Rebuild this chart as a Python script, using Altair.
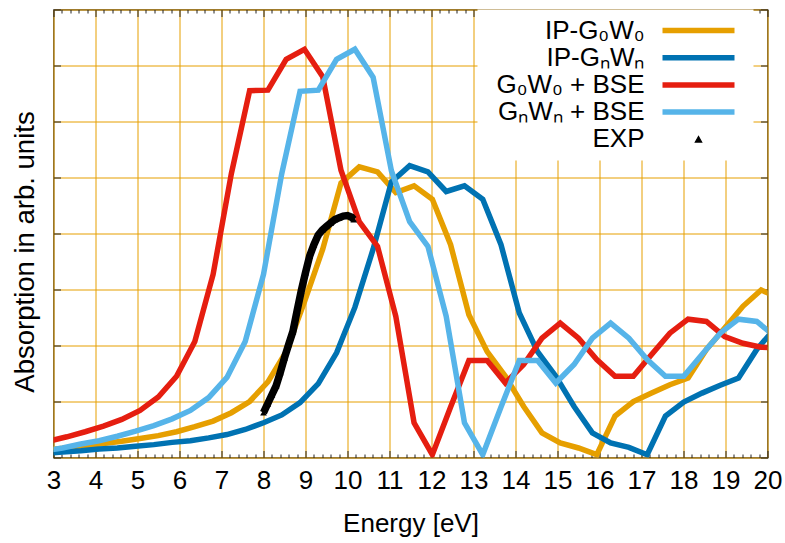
import altair as alt
import pandas as pd

FONT = "Liberation Sans"

# ---- data ----
energy_g0w0 = [2.885, 3.32, 3.755, 4.19, 4.625, 5.06, 5.495, 5.93, 6.365, 6.80,
               7.235, 7.67, 8.105, 8.54, 8.975, 9.41, 9.845, 10.28, 10.715, 11.15,
               11.585, 12.02, 12.455, 12.89, 13.325, 13.76, 14.195, 14.63, 15.065, 15.5,
               15.935, 16.37, 16.805, 17.24, 17.675, 18.11, 18.545, 18.98, 19.415, 19.85,
               20.285]
energy_gnwn = [2.78, 3.215, 3.65, 4.085, 4.52, 4.955, 5.39, 5.825, 6.26, 6.695,
               7.13, 7.565, 8.0, 8.435, 8.87, 9.305, 9.74, 10.175, 10.61, 11.045,
               11.48, 11.915, 12.35, 12.785, 13.22, 13.655, 14.09, 14.525, 14.96, 15.395,
               15.83, 16.265, 16.70, 17.135, 17.57, 18.005, 18.44, 18.875, 19.31, 19.745,
               20.18]
ip_g0w0 = [0.14, 0.17, 0.21, 0.25, 0.29, 0.34, 0.39, 0.46, 0.55, 0.65,
           0.80, 1.00, 1.35, 1.89, 2.78, 3.72, 4.90, 5.19, 5.10, 4.73,
           4.85, 4.61, 3.80, 2.55, 1.89, 1.45, 0.91, 0.44, 0.26, 0.17,
           0.05, 0.74, 1.00, 1.15, 1.30, 1.42, 1.93, 2.31, 2.70, 2.99,
           2.85]
ip_gnwn = [0.07, 0.10, 0.12, 0.15, 0.17, 0.20, 0.23, 0.27, 0.30, 0.35,
           0.41, 0.50, 0.62, 0.76, 0.98, 1.32, 1.87, 2.68, 3.72, 4.92,
           5.21, 5.10, 4.75, 4.85, 4.61, 3.80, 2.58, 1.89, 1.45, 0.91,
           0.44, 0.26, 0.18, 0.05, 0.74, 0.99, 1.15, 1.29, 1.42, 1.93,
           2.31]
bse_g0w0 = [0.29, 0.37, 0.46, 0.56, 0.68, 0.84, 1.08, 1.45, 2.07, 3.27,
            5.07, 6.55, 6.56, 7.11, 7.29, 6.80, 5.13, 4.21, 3.77, 2.52,
            0.62, 0.05, 0.90, 1.73, 1.73, 1.33, 1.66, 2.13, 2.40, 2.13,
            1.75, 1.45, 1.45, 1.84, 2.22, 2.47, 2.43, 2.16, 2.04, 1.97,
            1.95]
bse_gnwn = [0.12, 0.17, 0.24, 0.30, 0.38, 0.47, 0.57, 0.69, 0.84, 1.07,
            1.43, 2.07, 3.27, 5.07, 6.54, 6.56, 7.11, 7.29, 6.79, 5.12,
            4.21, 3.77, 2.52, 0.62, 0.05, 0.90, 1.73, 1.73, 1.33, 1.66,
            2.13, 2.40, 2.13, 1.75, 1.45, 1.45, 1.84, 2.22, 2.47, 2.43,
            2.16]
exp_energy = [8.00, 8.10, 8.20, 8.30, 8.40, 8.50, 8.60, 8.70, 8.80, 8.90,
              9.00, 9.10, 9.20, 9.30, 9.40, 9.50, 9.60, 9.70, 9.80, 9.90,
              10.00, 10.10, 10.15]
exp_abs = [0.80, 0.96, 1.12, 1.28, 1.52, 1.78, 2.02, 2.25, 2.62, 2.98,
           3.30, 3.60, 3.80, 3.97, 4.06, 4.13, 4.19, 4.25, 4.28, 4.31,
           4.32, 4.29, 4.25]

series_labels = ["IP-G\u2080W\u2080", "IP-G\u2099W\u2099", "G\u2080W\u2080 + BSE",
                 "G\u2099W\u2099 + BSE", "EXP"]
series_colors = ["#E69F00", "#0072B2", "#E51E10", "#56B4E9", "#000000"]

x_major = list(range(3, 21))
x_minor = [round(3 + 0.2 * i, 1) for i in range(0, 86) if i % 5 != 0]
y_major = list(range(0, 9))

GRID = "#E69F00"
TICK = "#222222"

x_scale = alt.Scale(domain=[3, 20], nice=False, zero=False)
y_scale = alt.Scale(domain=[0, 8], nice=False, zero=False)
color_scale = alt.Scale(domain=series_labels, range=series_colors)

is_exp = "datum.value === 'EXP'"
legend = alt.Legend(
    title=None, orient="none", legendX=424, legendY=0,
    direction="vertical", columns=1,
    fillColor="white", padding=8,
    labelFont=FONT, labelFontSize=26, labelColor="black",
    labelAlign="right", labelOffset={"expr": "-67"}, labelLimit=0,
    symbolOffset=200,
    symbolType={"expr": f"{is_exp} ? 'triangle-up' : 'stroke'"},
    symbolSize={"expr": f"{is_exp} ? 40 : 5184"},
    symbolStrokeWidth={"expr": f"{is_exp} ? 1.2 : 5.5"},
    rowPadding=1.2,
)

# axes
ax_bottom_main = alt.Axis(
    orient="bottom", values=x_major, grid=True, gridColor=GRID, gridWidth=1,
    gridOpacity=1, ticks=False, domain=False, labels=True,
    labelFont=FONT, labelFontSize=26, labelColor="black", labelPadding=31,
    labelBaseline="alphabetic", labelFlush=False, labelOverlap=False,
    title="Energy [eV]", titleFont=FONT, titleFontSize=26, titleFontWeight="normal",
    titleColor="black", titleBaseline="alphabetic", titleY=74,
)
ax_left_main = alt.Axis(
    orient="left", values=y_major, grid=True, gridColor=GRID, gridWidth=1,
    gridOpacity=1, ticks=False, domain=False, labels=False,
    title="Absorption in arb. units", titleFont=FONT, titleFontSize=27.5,
    titleFontWeight="normal", titleColor="black", titleAngle=270,
    titleAlign="center", titleBaseline="alphabetic", titleX=-20, titleY=242,
)


def tick_axis(orient, values, size):
    return alt.Axis(orient=orient, values=values, grid=False, domain=False,
                    labels=False, title=None, ticks=True, tickSize=size,
                    tickColor=TICK, tickWidth=1, offset={"expr": str(-size)})


def curve(energy, values, label, axis_x, axis_y):
    df = pd.DataFrame({"E": energy, "A": values, "series": label})
    return alt.Chart(df).mark_line(strokeWidth=5.5, clip=True, strokeJoin="miter").encode(
        x=alt.X("E:Q", scale=x_scale, axis=axis_x),
        y=alt.Y("A:Q", scale=y_scale, axis=axis_y),
        color=alt.Color("series:N", scale=color_scale, legend=legend),
    )


l1 = curve(energy_g0w0, ip_g0w0, series_labels[0], ax_bottom_main, ax_left_main)
l2 = curve(energy_gnwn, ip_gnwn, series_labels[1],
           tick_axis("bottom", x_major, 7), tick_axis("left", y_major, 7))
l3 = curve(energy_g0w0, bse_g0w0, series_labels[2],
           tick_axis("bottom", x_minor, 3.5), tick_axis("right", y_major, 7))
l4 = curve(energy_gnwn, bse_gnwn, series_labels[3],
           tick_axis("top", x_major, 7), None)

exp_df = pd.DataFrame({"E": exp_energy, "A": exp_abs, "series": series_labels[4]})
l5 = alt.Chart(exp_df).mark_line(strokeWidth=7.5, color="black", clip=True).encode(
    x=alt.X("E:Q", scale=x_scale, axis=tick_axis("top", x_minor, 3.5)),
    y=alt.Y("A:Q", scale=y_scale, axis=None),
)
l6 = alt.Chart(exp_df).mark_point(shape="triangle-up", filled=True, size=45,
                                  opacity=1, clip=True).encode(
    x=alt.X("E:Q", scale=x_scale, axis=None),
    y=alt.Y("A:Q", scale=y_scale, axis=None),
    color=alt.Color("series:N", scale=color_scale, legend=legend),
)

chart = alt.layer(l1, l2, l3, l4, l5, l6).resolve_scale(
    x="shared", y="shared", color="shared"
).resolve_axis(x="independent", y="independent").properties(
    width=714, height=448,
    padding={"left": 53.5, "top": 9.5, "right": 17.5, "bottom": 85.5},
    autosize=alt.AutoSizeParams(type="none"),
    background="white",
).configure_view(stroke="#222222", strokeWidth=1.2).configure_axis(
    gridColor=GRID, tickColor=TICK
)

chart.save("out.html", embed_options={"renderer": "svg", "actions": False})
